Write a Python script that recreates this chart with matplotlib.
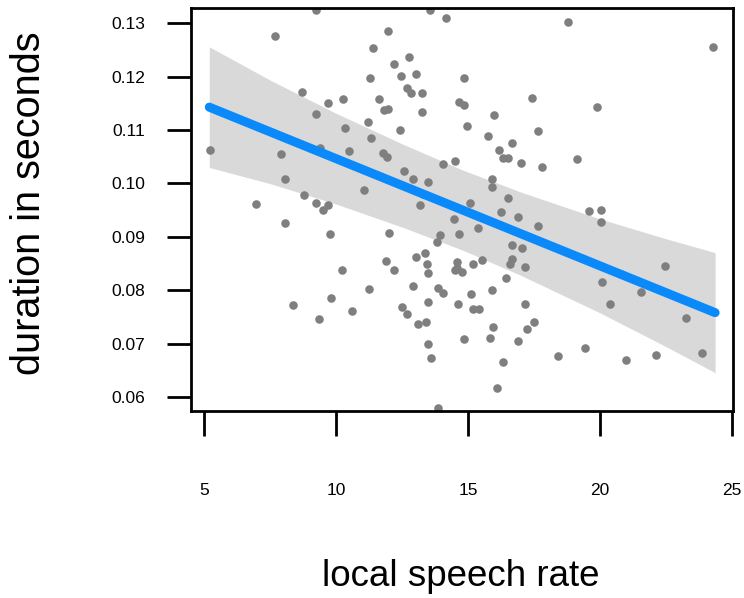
import numpy as np
import matplotlib
matplotlib.use("Agg")
import matplotlib.pyplot as plt

# local speech rate (x) and duration in seconds (y)
rate = [
    9.24, 7.69, 11.40, 11.29, 8.71, 9.70, 10.27, 9.24, 11.21, 10.34, 11.33, 5.23, 7.92, 9.39, 10.49,
    8.07, 11.06, 8.79, 6.97, 9.24, 9.70, 9.51,
    13.56, 14.17, 11.97, 12.77, 12.20, 12.46, 13.03, 14.85, 12.69, 12.84, 13.26, 11.63, 11.82, 11.97,
    13.26, 14.66, 14.85, 17.42, 15.98, 14.96, 12.42, 17.65, 15.76, 16.67, 11.78, 11.93, 16.17, 16.33,
    16.52, 17.01, 17.80, 14.05, 14.51, 12.58, 12.92, 13.48, 15.91, 15.91, 16.52, 15.08, 13.30, 13.18,
    18.79, 24.28, 19.89, 19.13, 19.58, 20.04,
    8.07, 9.77, 10.23, 11.25, 9.81, 8.37, 10.61, 9.36,
    12.01, 13.94, 13.83, 14.66, 14.47, 11.89, 12.20, 13.03, 13.37, 13.45, 13.48, 14.58, 14.51, 14.77,
    14.58, 12.92, 13.86, 14.05, 13.48, 14.62, 12.50, 12.69, 13.11, 13.41, 13.48, 13.60, 13.86,
    16.25, 16.89, 17.65, 15.38, 16.67, 17.05, 15.19, 15.53, 16.67, 16.59, 17.16, 16.44, 15.91, 15.11,
    15.19, 15.42, 17.16, 15.95, 17.50, 17.23, 15.83, 14.85, 16.89, 16.33, 16.10,
    20.04, 22.46, 20.80, 20.08, 21.55, 20.38, 23.26, 18.41, 19.43, 20.98, 22.12, 23.86,
]
duration = [
    0.1325, 0.1276, 0.1254, 0.1197, 0.1171, 0.1150, 0.1158, 0.1130, 0.1115, 0.1103, 0.1085, 0.1062, 0.1056, 0.1066, 0.1060,
    0.1008, 0.0987, 0.0979, 0.0961, 0.0964, 0.0959, 0.0951,
    0.1325, 0.1310, 0.1286, 0.1237, 0.1224, 0.1201, 0.1205, 0.1197, 0.1178, 0.1169, 0.1169, 0.1158, 0.1137, 0.1139,
    0.1133, 0.1152, 0.1147, 0.1160, 0.1128, 0.1107, 0.1100, 0.1098, 0.1088, 0.1075, 0.1058, 0.1049, 0.1062, 0.1047,
    0.1047, 0.1039, 0.1030, 0.1036, 0.1043, 0.1023, 0.1009, 0.1002, 0.1009, 0.0993, 0.0972, 0.0964, 0.0981, 0.0959,
    0.1302, 0.1255, 0.1143, 0.1045, 0.0949, 0.0951,
    0.0925, 0.0906, 0.0837, 0.0803, 0.0786, 0.0773, 0.0761, 0.0746,
    0.0908, 0.0904, 0.0891, 0.0906, 0.0934, 0.0855, 0.0837, 0.0863, 0.0869, 0.0850, 0.0833, 0.0852, 0.0837, 0.0835,
    0.0842, 0.0808, 0.0805, 0.0795, 0.0777, 0.0775, 0.0769, 0.0756, 0.0737, 0.0741, 0.0700, 0.0673, 0.0579,
    0.0946, 0.0938, 0.0921, 0.0916, 0.0884, 0.0880, 0.0850, 0.0857, 0.0859, 0.0850, 0.0844, 0.0822, 0.0801, 0.0792,
    0.0765, 0.0765, 0.0775, 0.0731, 0.0741, 0.0728, 0.0711, 0.0709, 0.0705, 0.0666, 0.0617,
    0.0927, 0.0846, 0.0831, 0.0816, 0.0797, 0.0775, 0.0748, 0.0677, 0.0692, 0.0669, 0.0679, 0.0683,
]

# regression line and its confidence band
fit_x = [5.2, 24.36]
fit_y = [0.1143, 0.0758]
band_x = [5.2, 7.5, 10.0, 12.5, 14.8, 17.0, 20.0, 22.5, 24.36]
band_halfwidth = [0.0113, 0.0097, 0.0085, 0.0078, 0.0075, 0.0078, 0.0088, 0.0101, 0.01125]

x_ticks = [5, 10, 15, 20, 25]
y_ticks = [0.06, 0.07, 0.08, 0.09, 0.10, 0.11, 0.12, 0.13]
y_tick_labels = ["0.06", "0.07", "0.08", "0.09", "0.10", "0.11", "0.12", "0.13"]

bx = np.array(band_x)
slope = (fit_y[1] - fit_y[0]) / (fit_x[1] - fit_x[0])
band_center = fit_y[0] + slope * (bx - fit_x[0])
hw = np.array(band_halfwidth)

plt.rcParams['font.family'] = ['Liberation Sans', 'DejaVu Sans']

W, H = 744, 598
fig = plt.figure(figsize=(W / 100, H / 100), dpi=100)
ax = fig.add_axes([191 / W, 1 - 411 / H, (733 - 191) / W, (411 - 7.5) / H])

ax.fill_between(bx, band_center - hw, band_center + hw, color='#D9D9D9', lw=0, zorder=1)
ax.scatter(rate, duration, s=38, color='#7F7F7F', lw=0, zorder=2)
ax.plot(fit_x, fit_y, color='#0A8AFA', lw=6.5, solid_capstyle='round', zorder=3)

x0 = 5 - 13 / 26.4
x1 = 25 + 1 / 26.4
ax.set_xlim(x0, x1)
ax.set_ylim(0.06 - 14 / 5324, 0.13 + 15.8 / 5324)

ax.set_xticks(x_ticks)
ax.set_xticklabels([str(v) for v in x_ticks])
ax.set_yticks(y_ticks)
ax.set_yticklabels(y_tick_labels)

for sp in ax.spines.values():
    sp.set_linewidth(2.0)
    sp.set_color('black')

ax.tick_params(axis='x', direction='out', length=18, width=2.0, pad=34, labelsize=12.5)
ax.tick_params(axis='y', direction='out', length=17, width=2.0, pad=16, labelsize=12.5)

fig.text(29 / W, 1 - 203 / H, "duration in seconds", rotation=90, ha='center', va='center', fontsize=28.5)
fig.text(461 / W, 1 - 577 / H, "local speech rate", ha='center', va='center', fontsize=26.5)

fig.savefig("out.png", dpi=100)
